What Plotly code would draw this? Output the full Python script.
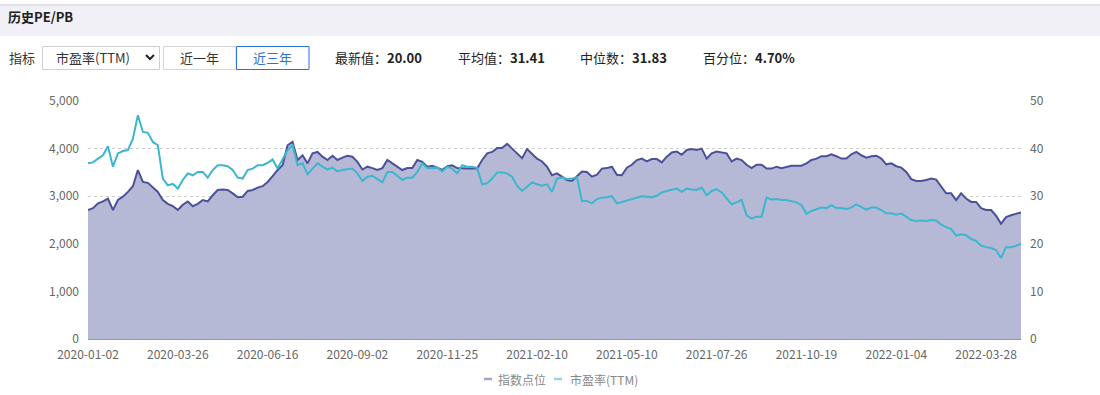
import pandas as pd
import plotly.graph_objects as go

# ---------------- data ----------------
HOLIDAYS = [
    "2020-01-01", "2020-01-24", "2020-01-27", "2020-01-28", "2020-01-29", "2020-01-30", "2020-01-31",
    "2020-04-06", "2020-05-01", "2020-05-04", "2020-05-05", "2020-06-25", "2020-06-26",
    "2020-10-01", "2020-10-02", "2020-10-05", "2020-10-06", "2020-10-07", "2020-10-08",
    "2021-01-01", "2021-02-11", "2021-02-12", "2021-02-15", "2021-02-16", "2021-02-17",
    "2021-04-05", "2021-05-03", "2021-05-04", "2021-05-05", "2021-06-14", "2021-09-20", "2021-09-21",
    "2021-10-01", "2021-10-04", "2021-10-05", "2021-10-06", "2021-10-07",
    "2022-01-03", "2022-01-31", "2022-02-01", "2022-02-02", "2022-02-03", "2022-02-04",
    "2022-04-04", "2022-04-05", "2022-05-02", "2022-05-03", "2022-05-04",
]
START_DATE = "2020-01-02"
END_DATE = "2022-06-30"
SAMPLE_STEP = 3  # one reading every 3 trading days

TICK_LABELS = ["2020-01-02", "2020-03-26", "2020-06-16", "2020-09-02", "2020-11-25", "2021-02-10",
               "2021-05-10", "2021-07-26", "2021-10-19", "2022-01-04", "2022-03-28"]
TICK_EVERY = 18  # in sampled points

INDEX_POINTS = [
    2710, 2750, 2850, 2890, 2950, 2710, 2920, 2990, 3090, 3210,
    3550, 3300, 3280, 3180, 3090, 2920, 2840, 2790, 2710, 2820,
    2890, 2790, 2840, 2920, 2890, 3020, 3130, 3140, 3130, 3060,
    2980, 2990, 3110, 3130, 3180, 3210, 3300, 3420, 3550, 3650,
    4070, 4140, 3760, 3860, 3690, 3900, 3930, 3830, 3760, 3850,
    3760, 3810, 3850, 3830, 3720, 3560, 3620, 3590, 3550, 3590,
    3760, 3690, 3620, 3550, 3590, 3590, 3760, 3720, 3620, 3640,
    3600, 3550, 3630, 3650, 3590, 3580, 3580, 3580, 3580, 3760,
    3900, 3930, 4010, 4010, 4100, 4000, 3900, 3800, 3990, 3900,
    3790, 3730, 3620, 3440, 3480, 3410, 3340, 3320, 3430, 3520,
    3510, 3410, 3450, 3580, 3590, 3620, 3450, 3440, 3600, 3660,
    3760, 3790, 3730, 3780, 3780, 3710, 3830, 3920, 3940, 3870,
    3970, 3990, 3970, 4000, 3790, 3900, 3940, 3920, 3900, 3730,
    3790, 3760, 3660, 3590, 3660, 3660, 3580, 3580, 3620, 3590,
    3620, 3640, 3640, 3640, 3690, 3760, 3790, 3840, 3840, 3880,
    3840, 3790, 3790, 3880, 3930, 3860, 3810, 3840, 3850, 3790,
    3670, 3690, 3630, 3600, 3510, 3360, 3320, 3320, 3340, 3370,
    3350, 3210, 3060, 3060, 2920, 3060, 2950, 2880, 2880, 2750,
    2710, 2710, 2590, 2420, 2560, 2600, 2630, 2660,
]

PE_TTM = [
    36.9, 37.1, 37.9, 38.6, 40.5, 36.2, 39.0, 39.5, 39.7, 42.1,
    47.0, 43.5, 43.3, 41.4, 40.7, 33.7, 32.3, 32.6, 31.6, 33.4,
    34.8, 34.4, 35.1, 35.1, 33.9, 35.5, 36.5, 36.5, 36.3, 35.5,
    33.9, 33.7, 35.5, 35.8, 36.5, 36.5, 37.0, 37.7, 35.8, 37.9,
    39.7, 40.7, 36.5, 36.9, 34.6, 35.8, 36.9, 36.2, 35.6, 36.0,
    35.2, 35.5, 35.7, 35.8, 34.8, 33.2, 34.1, 34.3, 33.6, 32.9,
    35.1, 35.1, 34.3, 33.4, 33.9, 33.9, 35.1, 36.9, 35.9, 36.0,
    36.0, 35.2, 36.2, 35.8, 34.8, 36.5, 36.2, 36.2, 35.9, 32.5,
    32.7, 33.7, 35.0, 35.0, 34.8, 34.1, 32.2, 31.1, 32.0, 32.9,
    32.5, 32.2, 32.5, 30.9, 33.7, 33.9, 33.6, 33.7, 34.0, 29.0,
    29.0, 28.5, 29.4, 29.7, 29.8, 30.0, 28.5, 28.8, 29.2, 29.4,
    29.7, 30.0, 29.9, 29.8, 30.1, 30.8, 31.1, 31.4, 31.6, 30.9,
    31.6, 31.4, 31.3, 31.8, 30.2, 31.1, 31.5, 30.8, 29.5, 28.3,
    28.7, 29.2, 26.0, 25.3, 25.7, 25.7, 29.7, 29.3, 29.4, 29.2,
    29.2, 29.0, 28.7, 28.1, 26.3, 26.9, 27.3, 27.6, 27.5, 28.1,
    27.5, 27.5, 27.3, 27.6, 28.3, 27.7, 27.2, 27.6, 27.6, 27.1,
    26.4, 26.4, 26.1, 26.4, 25.7, 25.0, 24.8, 24.9, 24.8, 25.0,
    24.9, 24.0, 23.5, 23.1, 21.7, 22.0, 21.8, 21.0, 20.6, 19.6,
    19.3, 19.1, 18.7, 17.0, 19.3, 19.3, 19.6, 20.0,
]

LEFT_TICKS = [0, 1000, 2000, 3000, 4000, 5000]
RIGHT_TICKS = [0, 10, 20, 30, 40, 50]
SERIES_NAMES = ["指数点位", "市盈率(TTM)"]
STATS = [("最新值", "20.00"), ("平均值", "31.41"), ("中位数", "31.83"), ("百分位", "4.70%")]
STAT_X = [333, 456, 578, 701]
TITLE = "历史PE/PB"
SELECT_TEXT = "市盈率(TTM)"
BUTTONS = ["近一年", "近三年"]

# ---------------- trading-day categories ----------------
days = pd.bdate_range(START_DATE, END_DATE)
hol = set(HOLIDAYS)
trade_days = [d.strftime("%Y-%m-%d") for d in days if d.strftime("%Y-%m-%d") not in hol]
n = len(PE_TTM)
dates = trade_days[::SAMPLE_STEP][:n]

tickvals = [i * TICK_EVERY for i in range(len(TICK_LABELS))]

# ---------------- colours / layout helpers ----------------
FONT = "Noto Sans CJK SC"
C_IDX = "#4b5199"
C_FILL = "#b6b9d5"
C_PE = "#3cb6cf"
L, R, T, B = 88, 79, 101, 56
W, H = 1100, 395
PW, PH = W - L - R, H - T - B


def PX(x):
    return (x - L) / PW


def PY(y):
    return (H - B - y) / PH


fig = go.Figure()
fig.add_trace(go.Scatter(
    x=dates, y=INDEX_POINTS, name=SERIES_NAMES[0], mode="lines",
    line=dict(color=C_IDX, width=2), fill="tozeroy", fillcolor=C_FILL,
    showlegend=False, yaxis="y",
))
fig.add_trace(go.Scatter(
    x=dates, y=PE_TTM, name=SERIES_NAMES[1], mode="lines",
    line=dict(color=C_PE, width=2), showlegend=False, yaxis="y2",
))

shapes = []
annotations = []

# header bar
shapes.append(dict(type="rect", xref="paper", yref="paper", x0=PX(0), x1=PX(W), y0=PY(36), y1=PY(5.5),
                   fillcolor="#f0f0f6", line=dict(width=0), layer="below"))
shapes.append(dict(type="line", xref="paper", yref="paper", x0=PX(0), x1=PX(W), y0=PY(5), y1=PY(5),
                   line=dict(color="#d9d9de", width=1.5)))
annotations.append(dict(text="<b>" + TITLE + "</b>", xref="paper", yref="paper", x=PX(6), y=PY(17),
                        xanchor="left", yanchor="middle", showarrow=False,
                        font=dict(size=13, color="#222", family=FONT)))

# controls row
annotations.append(dict(text="指标", xref="paper", yref="paper", x=PX(7), y=PY(58),
                        xanchor="left", yanchor="middle", showarrow=False,
                        font=dict(size=13, color="#333", family=FONT)))
shapes.append(dict(type="rect", xref="paper", yref="paper", x0=PX(42.5), x1=PX(159.5), y0=PY(69.5), y1=PY(46.5),
                   fillcolor="white", line=dict(color="#cfcfcf", width=1)))
annotations.append(dict(text=SELECT_TEXT, xref="paper", yref="paper", x=PX(54), y=PY(58),
                        xanchor="left", yanchor="middle", showarrow=False,
                        font=dict(size=13, color="#333", family=FONT)))
shapes.append(dict(type="path", xref="paper", yref="paper",
                   path=f"M {PX(146)} {PY(55)} L {PX(150)} {PY(59)} L {PX(154)} {PY(55)}",
                   line=dict(color="#222", width=2)))
btn_x = [(163.5, 236), (236.5, 309)]
for i, (label, (bx0, bx1)) in enumerate(zip(BUTTONS, btn_x)):
    active = i == 1
    col = "#2f6fd8" if active else "#333"
    shapes.append(dict(type="rect", xref="paper", yref="paper", x0=PX(bx0), x1=PX(bx1), y0=PY(69.5), y1=PY(46.5),
                       fillcolor="white", line=dict(color="#2f6fd8" if active else "#d4d4d4", width=1)))
    annotations.append(dict(text=label, xref="paper", yref="paper", x=PX((bx0 + bx1) / 2), y=PY(58),
                            xanchor="center", yanchor="middle", showarrow=False,
                            font=dict(size=13, color=col, family=FONT)))
for (label, val), sx in zip(STATS, STAT_X):
    annotations.append(dict(text=f"{label}：<b>{val}</b>", xref="paper", yref="paper", x=PX(sx), y=PY(58),
                            xanchor="left", yanchor="middle", showarrow=False,
                            font=dict(size=13, color="#222", family=FONT)))

# custom legend
leg = [(484, 496, "#a4a7cb", SERIES_NAMES[0]), (554, 568, "#95d5e3", SERIES_NAMES[1])]
for lx, tx, col, name in leg:
    shapes.append(dict(type="line", xref="paper", yref="paper", x0=PX(lx), x1=PX(lx + 8), y0=PY(379), y1=PY(379),
                       line=dict(color=col, width=2.5)))
    annotations.append(dict(text=name, xref="paper", yref="paper", x=PX(tx), y=PY(379),
                            xanchor="left", yanchor="middle", showarrow=False,
                            font=dict(size=12, color="#888", family=FONT)))

fig.update_layout(
    width=W, height=H,
    margin=dict(l=L, r=R, t=T, b=B, pad=0),
    paper_bgcolor="white", plot_bgcolor="white",
    font=dict(family=FONT, size=12, color="#666"),
    showlegend=False,
    hovermode="x unified",
    xaxis=dict(
        type="category", range=[0, n - 1], tickmode="array", tickvals=tickvals, ticktext=TICK_LABELS,
        showgrid=False, zeroline=False, showline=True, linecolor="#999", linewidth=1,
        ticks="", tickfont=dict(size=12, color="#666"), ticklabelstandoff=5,
    ),
    yaxis=dict(
        range=[0, 5000], tickmode="array", tickvals=LEFT_TICKS, tickformat=",",
        showgrid=True, gridcolor="#cccccc", griddash="3px,3px", gridwidth=1,
        zeroline=False, showline=False, ticks="", tickfont=dict(size=12, color="#666"),
        ticklabelstandoff=8,
    ),
    yaxis2=dict(
        range=[0, 50], tickmode="array", tickvals=RIGHT_TICKS, overlaying="y", side="right",
        showgrid=False, zeroline=False, showline=False, ticks="", tickfont=dict(size=12, color="#666"),
        ticklabelstandoff=8,
    ),
    shapes=shapes,
    annotations=annotations,
)

fig.write_html("out.html", config={"displayModeBar": False},
               post_script="document.body.style.margin='0';")
